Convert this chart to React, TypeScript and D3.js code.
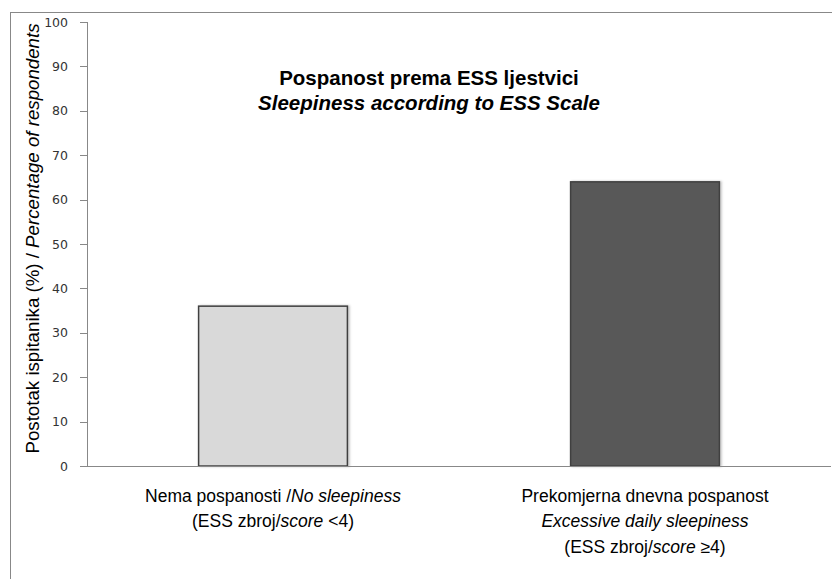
import React from "react";
import * as d3 from "d3";

const categories = ["no", "eds"];
const values = [36, 64];
const fills = ["#d9d9d9", "#595959"];
const yTicks = [0, 10, 20, 30, 40, 50, 60, 70, 80, 90, 100];

const W = 832;
const H = 579;
const left = 87;
const right = 831;
const top = 22;
const bottom = 466;

export default function App() {
  const x = d3.scaleBand<string>().domain(categories).range([left, right]).paddingInner(0.6).paddingOuter(0.3);
  const y = d3.scaleLinear().domain([0, 100]).range([bottom, top]);
  const bw = x.bandwidth();
  const cx = (c: string) => (x(c) as number) + bw / 2;
  const font = "'Liberation Sans', Arial, sans-serif";
  const catSize = 17.5;
  return (
    <svg width={W} height={H} style={{ position: "absolute", left: 0, top: 0 }} fontFamily={font}>
      <defs>
        <filter id="sh" x="-10%" y="-10%" width="120%" height="120%">
          <feDropShadow dx="1.5" dy="0" stdDeviation="1" floodColor="#000" floodOpacity="0.25" />
        </filter>
      </defs>
      <rect x={0} y={0} width={W} height={H} fill="#fff" />
      <line x1={10} y1={12.5} x2={W} y2={12.5} stroke="#888" />
      <line x1={10.5} y1={12} x2={10.5} y2={H} stroke="#888" />
      {/* y axis */}
      <line x1={left + 0.5} y1={top} x2={left + 0.5} y2={bottom} stroke="#888" />
      {yTicks.map((t) => (
        <g key={t}>
          <line x1={80} x2={left} y1={Math.round(y(t)) + 0.5} y2={Math.round(y(t)) + 0.5} stroke="#888" />
          <text x={68} y={y(t) + 4.5} textAnchor="end" fontSize={12.5} fontFamily="'DejaVu Sans', Verdana, sans-serif" fill="#333">
            {t}
          </text>
        </g>
      ))}
      {/* bars */}
      {categories.map((c, i) => (
        <rect
          key={c}
          x={x(c) as number}
          y={y(values[i])}
          width={bw}
          height={y(0) - y(values[i])}
          fill={fills[i]}
          stroke="#404040"
          strokeWidth={1.5}
          filter="url(#sh)"
        />
      ))}
      {/* x axis */}
      <line x1={left} y1={bottom + 0.5} x2={right} y2={bottom + 0.5} stroke="#888" />
      {/* y label */}
      <text transform={`translate(38.5,${238.5}) rotate(-90)`} textAnchor="middle" fontSize={18.7} fill="#000">
        Postotak ispitanika (%) / <tspan fontStyle="italic">Percentage of respondents</tspan>
      </text>
      {/* title */}
      <text x={429} y={85} textAnchor="middle" fontSize={20.5} fontWeight="bold" fill="#000">
        Pospanost prema ESS ljestvici
      </text>
      <text x={429} y={110} textAnchor="middle" fontSize={20.5} fontWeight="bold" fontStyle="italic" fill="#000">
        Sleepiness according to ESS Scale
      </text>
      {/* category labels */}
      <text x={cx("no")} y={502} textAnchor="middle" fontSize={catSize} fill="#000">
        Nema pospanosti /<tspan fontStyle="italic">No sleepiness</tspan>
      </text>
      <text x={cx("no")} y={527} textAnchor="middle" fontSize={catSize} fill="#000">
        (ESS zbroj/<tspan fontStyle="italic">score</tspan> &lt;4)
      </text>
      <text x={cx("eds")} y={502} textAnchor="middle" fontSize={catSize} fill="#000">
        Prekomjerna dnevna pospanost
      </text>
      <text x={cx("eds")} y={527} textAnchor="middle" fontSize={catSize} fontStyle="italic" fill="#000">
        Excessive daily sleepiness
      </text>
      <text x={cx("eds")} y={553} textAnchor="middle" fontSize={catSize} fill="#000">
        (ESS zbroj/<tspan fontStyle="italic">score</tspan> ≥4)
      </text>
    </svg>
  );
}
